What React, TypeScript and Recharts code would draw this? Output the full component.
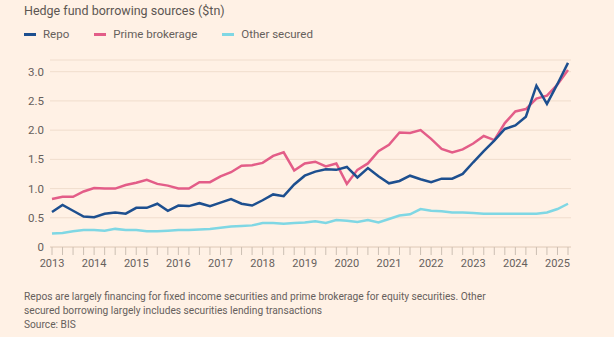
import { LineChart, Line, XAxis, YAxis, CartesianGrid } from "recharts";

// Quarterly categories, 2013 Q1 .. 2025 Q2
const years = [2013, 2014, 2015, 2016, 2017, 2018, 2019, 2020, 2021, 2022, 2023, 2024, 2025];
const quarters = years.flatMap((y) => ["Q1", "Q2", "Q3", "Q4"].map((q) => `${y} ${q}`)).slice(0, 50);

// $tn
const repo = [
  0.6, 0.72, 0.62, 0.52, 0.51, 0.57, 0.59, 0.57, 0.67, 0.67,
  0.74, 0.62, 0.71, 0.7, 0.75, 0.7, 0.76, 0.82, 0.74, 0.71,
  0.8, 0.9, 0.87, 1.07, 1.22, 1.29, 1.33, 1.32, 1.37, 1.19,
  1.35, 1.21, 1.09, 1.13, 1.22, 1.16, 1.11, 1.17, 1.17, 1.25,
  1.45, 1.64, 1.82, 2.02, 2.08, 2.23, 2.76, 2.45, 2.79, 3.15,
];
const primeBrokerage = [
  0.82, 0.86, 0.86, 0.95, 1.01, 1.0, 1.0, 1.06, 1.1, 1.15,
  1.08, 1.05, 1.0, 1.0, 1.11, 1.11, 1.21, 1.28, 1.39, 1.4,
  1.44, 1.56, 1.62, 1.31, 1.43, 1.46, 1.38, 1.43, 1.08, 1.32,
  1.43, 1.64, 1.75, 1.96, 1.95, 2.0, 1.85, 1.68, 1.62, 1.67,
  1.77, 1.9, 1.83, 2.12, 2.32, 2.36, 2.54, 2.59, 2.78, 3.03,
];
const otherSecured = [
  0.23, 0.24, 0.27, 0.29, 0.29, 0.28, 0.31, 0.29, 0.29, 0.27,
  0.27, 0.28, 0.29, 0.29, 0.3, 0.31, 0.33, 0.35, 0.36, 0.37,
  0.41, 0.41, 0.4, 0.41, 0.42, 0.44, 0.41, 0.46, 0.45, 0.43,
  0.46, 0.42, 0.48, 0.54, 0.56, 0.65, 0.62, 0.61, 0.59, 0.59,
  0.58, 0.57, 0.57, 0.57, 0.57, 0.57, 0.57, 0.59, 0.65, 0.74,
];
const yTicks = [0, 0.5, 1, 1.5, 2, 2.5, 3];

const data = quarters.map((q, i) => ({
  q,
  repo: repo[i],
  prime: primeBrokerage[i],
  other: otherSecured[i],
}));

const COLORS = { repo: "#1d4f8f", prime: "#e35d88", other: "#7fd7e4" };
const FONT = "Roboto, 'Noto Sans', sans-serif";
const GREY = "#66605c";

const legendItems = [
  { name: "Repo", color: COLORS.repo },
  { name: "Prime brokerage", color: COLORS.prime },
  { name: "Other secured", color: COLORS.other },
];

export default function App() {
  return (
    <div style={{ position: "fixed", left: 0, top: 0, width: 614, height: 337, background: "#fff1e5", fontFamily: FONT, color: GREY }}>
      <div style={{ position: "absolute", left: 24, top: 3, fontSize: 12.5, color: "#5c5652" }}>
        Hedge fund borrowing sources ($tn)
      </div>
      <div style={{ position: "absolute", left: 24, top: 27, display: "flex", fontSize: 11.5 }}>
        {legendItems.map((l) => (
          <div key={l.name} style={{ display: "flex", alignItems: "center", marginRight: 25 }}>
            <span style={{ display: "inline-block", width: 12, height: 3, background: l.color, marginRight: 7 }} />
            {l.name}
          </div>
        ))}
      </div>
      <div style={{ position: "absolute", left: 0, top: 0 }}>
        <LineChart width={614} height={280} data={data} margin={{ top: 60, right: 43, bottom: 0, left: 0 }}>
          <CartesianGrid vertical={false} stroke="#f0ddcd" strokeWidth={1} />
          <XAxis
            dataKey="q"
            interval={0}
            padding={{ left: 2, right: 3 }}
            height={33}
            tickSize={8}
            tickMargin={4}
            axisLine={{ stroke: "#e6d2c2" }}
            tickLine={{ stroke: "#ccbfb3" }}
            tick={{ fill: GREY, fontSize: 11, fontFamily: FONT }}
            tickFormatter={(v: string) => (v.endsWith("Q1") ? v.slice(0, 4) : "")}
          />
          <YAxis
            domain={[0, 3.2]}
            ticks={yTicks}
            width={50}
            tickSize={0}
            tickMargin={6}
            axisLine={false}
            tickLine={false}
            tick={{ fill: GREY, fontSize: 11.5, fontFamily: FONT }}
            tickFormatter={(v: number) => (v === 0 ? "0" : v.toFixed(1))}
          />
          <Line dataKey="other" stroke={COLORS.other} strokeWidth={2.5} dot={false} isAnimationActive={false} />
          <Line dataKey="prime" stroke={COLORS.prime} strokeWidth={2.5} dot={false} isAnimationActive={false} />
          <Line dataKey="repo" stroke={COLORS.repo} strokeWidth={2.5} dot={false} isAnimationActive={false} />
        </LineChart>
      </div>
      <div style={{ position: "absolute", left: 24, top: 290, fontSize: 10.2, lineHeight: "14px" }}>
        Repos are largely financing for fixed income securities and prime brokerage for equity securities. Other
        <br />
        secured borrowing largely includes securities lending transactions
        <br />
        Source: BIS
      </div>
    </div>
  );
}
